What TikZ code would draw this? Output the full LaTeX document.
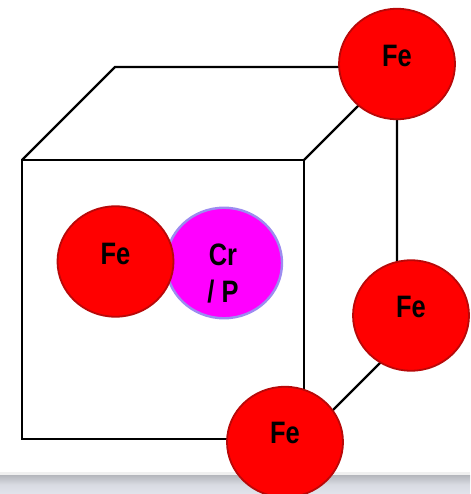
\documentclass[tikz,border=0pt]{standalone}
\usepackage{fontspec}
\setmainfont{Liberation Sans}
\usetikzlibrary{shapes.geometric,backgrounds}
\definecolor{feedge}{RGB}{185,8,8}
\definecolor{fefill}{RGB}{255,0,0}
\definecolor{cpfill}{RGB}{255,0,255}
\definecolor{cpedge}{RGB}{156,140,240}
\definecolor{bandtop}{RGB}{180,182,188}
\definecolor{bandbot}{RGB}{226,228,236}
\tikzset{
  atomfe/.style={ellipse,draw=feedge,line width=1.8pt,fill=fefill,minimum width=116pt,minimum height=110.5pt,inner sep=0pt},
  atomcp/.style={ellipse,draw=cpedge,line width=2.4pt,fill=cpfill,minimum width=116pt,minimum height=110.5pt,inner sep=0pt},
  atomlabel/.style={font=\bfseries\fontsize{31}{37}\selectfont,text=black,xscale=0.82,align=center,inner sep=0pt},
  edgeline/.style={draw=black,line width=2.2pt,line join=miter}
}
\begin{document}
\begin{tikzpicture}[x=1pt,y=-1pt]
\useasboundingbox (0,0) rectangle (470,494);
\fill[white] (0,0) rectangle (470,494);
\fill[black!6] (0,472) rectangle (470,475);
\shade[top color=bandtop,bottom color=bandbot,middle color=bandbot!80!bandtop] (0,475) rectangle (470,494);
% corners of the cube
\coordinate (ftl) at (22,160);
\coordinate (ftr) at (304,160);
\coordinate (fbl) at (22,439);
\coordinate (fbr) at (304,439);
\coordinate (btl) at (115,67);
\coordinate (btr) at (397,67);
\coordinate (bbr) at (397,346);
\draw[edgeline] (ftl) -- (ftr) -- (fbr) -- (fbl) -- cycle;
\draw[edgeline] (ftl) -- (btl) -- (btr) -- (ftr);
\draw[edgeline] (btr) -- (bbr) -- (fbr);
% atoms
\node[atomcp] (cp) at (224,263) {};
\node[atomfe] (fec) at (115.5,261.5) {};
\node[atomfe] (fea) at (397,64) {};
\node[atomfe] (feb) at (411,315.5) {};
\node[atomfe] (fed) at (285,442) {};
% labels
\node[atomlabel] (lfea) at (397,55.5) {Fe};
\node[atomlabel] (lfeb) at (411,307) {Fe};
\node[atomlabel] (lfec) at (115.5,254) {Fe};
\node[atomlabel] (lfed) at (285,433) {Fe};
\node[atomlabel] (lcr) at (223,254.5) {Cr};
\node[atomlabel] (lp) at (223,291.5) {/ P};
\end{tikzpicture}
\end{document}
